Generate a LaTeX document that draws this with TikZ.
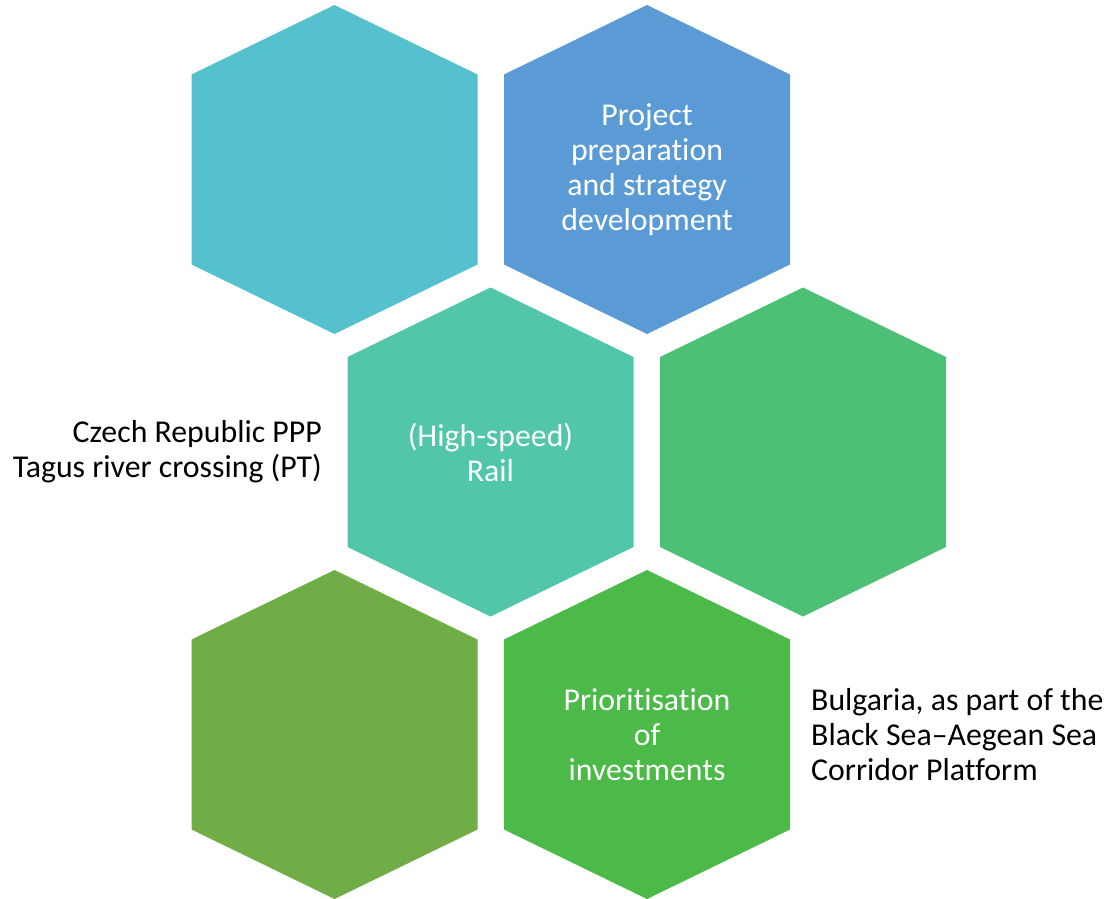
\documentclass[tikz,border=0pt]{standalone}
\usepackage{fontspec}
\setmainfont{Carlito}[Ligatures={NoCommon}]
\definecolor{hcyan}{HTML}{55C1CF}
\definecolor{hblue}{HTML}{5B9BD5}
\definecolor{hteal}{HTML}{51C6A8}
\definecolor{hmint}{HTML}{4CC075}
\definecolor{holive}{HTML}{70AD47}
\definecolor{hgreen}{HTML}{4BBA48}
\newcommand\hexshape[3]{%
  \fill[#3] (#1-143,#2-95) -- (#1,#2-164.5) -- (#1+143,#2-95) -- (#1+143,#2+95)
    -- (#1,#2+164.5) -- (#1-143,#2+95) -- cycle;}
\begin{document}
\begin{tikzpicture}[x=1pt,y=-1pt,
  hextext/.style={text=white,inner sep=0pt,align=center,font=\fontsize{31.8}{35}\selectfont},
  sidetext/.style={text=black,inner sep=0pt,font=\fontsize{31.8}{35}\selectfont}]
\useasboundingbox (0,0) rectangle (1109,899);
\hexshape{334.5}{169.5}{hcyan}
\hexshape{647}{169.5}{hblue}
\hexshape{490.5}{452}{hteal}
\hexshape{803}{452}{hmint}
\hexshape{334.5}{734.5}{holive}
\hexshape{647}{734.5}{hgreen}
\node[hextext] (h1) at (334.5,169.5) {};
\node[hextext] (h2) at (647,169.5) {Project\\preparation\\and strategy\\development};
\node[hextext] (h3) at (490.5,452) {(High-speed)\\Rail};
\node[hextext] (h4) at (803,452) {};
\node[hextext] (h5) at (334.5,734.5) {};
\node[hextext] (h6) at (647,734.5) {Prioritisation\\of\\investments};
\node[sidetext,anchor=east,align=right] (lt) at (322,452) {Czech Republic PPP\\Tagus river crossing (PT)};
\node[sidetext,anchor=west,align=left] (rt) at (811,734.5) {Bulgaria, as part of the\\Black Sea–Aegean Sea\\Corridor Platform};
\end{tikzpicture}
\end{document}
